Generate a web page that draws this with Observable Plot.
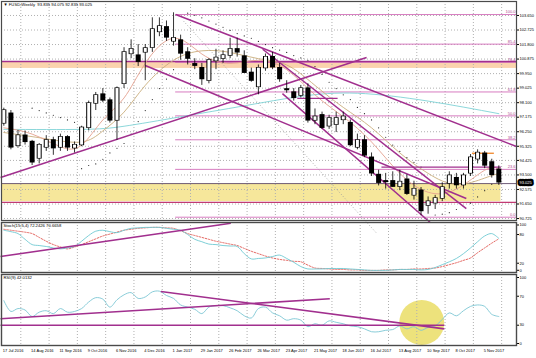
<!DOCTYPE html>
<html><head><meta charset="utf-8">
<script src="https://cdn.jsdelivr.net/npm/d3@7"></script>
<script src="https://cdn.jsdelivr.net/npm/@observablehq/plot@0.6"></script>
<style>
body{margin:0;background:#fff;}
#chart{position:relative;width:536px;height:358px;overflow:hidden;background:#fff;}
#chart svg{position:absolute;left:0;}
</style></head><body><div id="chart"></div>
<script>
// ---------- data ----------
const firstWeek = "2016-07-17";
const open  = [96.78,97.4,95.35,96.0,95.6,94.55,95.25,95.7,95.25,95.9,95.2,95.4,96.5,98.05,98.62,98.24,96.97,99.3,101.2,101.1,101.3,101.6,102.6,102.9,102.0,102.06,101.3,100.55,100.3,99.5,100.75,100.9,101.1,101.5,101.04,100.0,99.1,100.3,101.0,100.3,98.95,98.75,98.55,99.0,96.97,97.3,96.6,96.7,97.0,96.8,95.25,95.7,94.6,93.5,93.1,93.1,92.75,93.2,92.2,92.5,91.55,91.7,92.0,92.95,93.3,92.85,93.6,94.5,94.85,94.3,93.835];
const high  = [97.75,97.6,96.33,96.3,95.7,95.5,96.0,95.9,96.1,96.0,95.6,96.6,98.2,98.75,99.0,98.4,99.1,101.6,102.1,101.8,101.8,103.5,103.5,103.3,103.82,102.4,101.6,100.9,100.6,100.9,101.5,101.4,102.2,102.2,101.4,100.3,100.5,101.2,101.3,100.6,99.5,99.0,99.2,99.3,97.7,97.5,97.3,97.5,97.5,97.0,96.1,96.0,94.9,93.8,93.6,93.7,93.8,93.5,93.1,92.7,92.1,92.2,93.0,93.7,93.6,93.6,94.8,95.1,95.0,94.5,94.075];
const low   = [96.6,95.1,95.2,95.4,94.1,94.2,95.0,94.75,95.0,95.0,94.9,95.3,96.3,97.6,98.1,96.8,95.7,99.0,100.9,100.4,99.5,101.3,102.3,102.0,101.7,100.8,100.5,100.2,99.2,99.3,100.2,100.6,100.9,101.0,100.0,99.4,98.6,100.1,100.2,99.4,98.7,98.2,98.4,96.8,96.7,96.4,96.4,96.2,96.7,95.3,95.1,94.6,93.4,92.8,92.6,92.7,92.5,92.2,91.9,90.9,91.0,91.3,91.8,92.6,92.6,92.6,93.4,94.2,93.9,93.3,92.835];
const close = [97.6,95.25,96.0,95.6,94.3,95.4,95.7,95.2,95.9,95.25,95.4,96.5,98.05,98.56,98.24,96.97,99.0,101.3,101.5,100.7,101.55,102.76,102.95,102.25,102.2,101.23,100.9,100.45,99.6,100.8,100.95,101.1,101.5,101.3,100.0,99.5,100.3,101.0,100.35,99.6,98.9,98.4,99.0,96.97,97.2,96.5,97.1,97.1,97.2,95.4,95.7,94.74,93.6,93.0,93.05,92.75,93.05,92.3,92.6,91.2,91.8,92.0,92.7,93.45,92.85,93.45,94.6,94.9,94.1,93.5,93.025];

const stochK = [89,86,82,70,59,57,55,52,50,52,55,66,78,87,89,86,84,89,93,94,95,95,95,93,91,89,80,70,65,60,59,57,56,55,40,29,30,31,34,37,30,22,13,8,8,8,9,9,9,8,7,6,5,5,5,6,7,7,7,6,7,11,17,23,30,40,52,65,77,82,72];
const stochD = [91,89,87,85,82,74,66,59,54,50,54,59,65,71,77,81,85,89,91,93,94,95,95,94,93,88,82,78,74,70,66,63,60,57,51,45,40,35,31,28,26,24,23,16,10,9,8,7,7,6,6,5,5,5,6,6,7,7,8,8,9,10,13,17,21,26,31,42,52,62,71];
const rsi = [64,49,53,51,42,48,50,46,53,48,49,53,62,68,66,55,65,72,75,67,69,76,77,71,67,58,55,52,46,55,57,57,54,50,43,40,53,55,47,43,37,39,37,28,32,30,36,34,32,29,28,25,21,21,23,24,29,25,28,23,27,29,38,47,43,50,56,58,56,45,42];

const maCyan   = [[0,96.4],[11,96.4],[17,96.6],[25,97.2],[34,97.9],[42,98.5],[50,98.7],[60,98.2],[70,97.4]];
const maTan    = [[0,96.2],[6,95.8],[11,95.6],[14,96.3],[17,97.5],[20,99.2],[24,100.8],[28,101.4],[32,101.3],[36,100.9],[40,100.5],[44,99.2],[48,97.8],[52,96.5],[56,94.9],[60,93.6],[64,92.9],[68,93.3],[70,93.6]];
const maSalmon = [[0,96.5],[4,96.1],[8,95.3],[11,95.4],[14,97.0],[17,98.4],[20,100.6],[24,102.2],[28,101.2],[32,100.6],[36,100.8],[40,100.2],[44,98.6],[48,97.2],[52,95.6],[56,93.6],[60,92.4],[64,92.6],[68,93.8],[70,93.9]];
const sar = [[4,97.75],[5,97.6],[6,97.45],[7,97.3],[8,97.15],[9,97.0],[10,96.85],[11,93.9],[12,94.1],[13,94.2],[14,94.5],[15,94.9],[16,95.2],[17,95.5],[18,96.1],[19,96.9],[20,97.6],[21,98.3],[22,99.0],[23,99.6],[24,100.2],[26,103.8],[27,103.65],[28,103.5],[29,103.3],[30,103.1],[31,102.9],[32,102.7],[33,102.5],[34,102.35],[35,102.2],[36,102.0],[37,101.8],[38,101.6],[39,101.45],[40,101.3],[41,101.1],[42,100.95],[43,100.8],[44,100.4],[45,99.9],[46,99.4],[47,99.0],[48,98.6],[49,98.3],[50,97.8],[51,97.4],[52,97.0],[53,96.5],[54,95.9],[55,95.4],[56,95.0],[57,94.6],[58,94.3],[59,94.0],[61,90.95],[62,91.0],[63,91.1],[64,91.3],[65,91.5],[66,91.7],[67,92.1],[68,92.5],[69,92.9]];

const priceTicks = [103.650,102.725,101.800,100.875,99.950,99.025,98.100,97.175,96.250,95.325,94.425,93.500,92.575,91.650,90.725];
const lastPrice = 93.025;
const fibLevels = [0,23.6,38.2,50,61.8,76.4,85.4,100];
const fibLow = 90.81, fibHigh = 103.71, fibStartWeek = 24.3;
const orangeZone = [100.28,100.72];
const yellowZone = [91.8,92.95];
const supportLine = 91.75;
// trend lines: [week1, price1, week2, price2]
const mainTrends = [[-0.47,93.34,51.3,100.98],[24.3,103.71,72.5,95.31],[20.0,100.47,65.4,92.0],[36.6,101.5,65.4,91.36],[39.4,98.68,60.3,90.47]];
const dottedTrend = [[25.4,103.3,52.7,89.8]];
const mainSegments = [[41.5,98.37,47.2,98.37,"purple"],[53.4,94.0,70.3,94.0,"purple"],[66.2,94.88,69.3,94.88,"orange"]];
const stochTrend = [[-0.47,34.1,32.1,103.8]];
const rsiTrends = [[-0.47,38.9,46.1,66.5],[22.2,76.5,62.3,25],[-0.47,30,62.3,30]];
const rsiHighlight = [[59.1,33.7]];
const labelDates = ["2016-07-17","2016-08-14","2016-09-11","2016-10-09","2016-11-06","2016-12-04","2017-01-01","2017-01-29","2017-02-26","2017-03-26","2017-04-23","2017-05-21","2017-06-18","2017-07-16","2017-08-13","2017-09-10","2017-10-08","2017-11-05"];
const title = "\u25BC FUSD,Weekly  93.835 94.075 92.835 93.025";
const stochTitle = "Stoch(15,5,4) 72.2426 70.6658";
const rsiTitle = "RSI(9) 42.0132";

// ---------- helpers ----------
const t0 = Date.parse(firstWeek + "T00:00:00Z");
const wd = w => new Date(t0 + w * 7 * 864e5);
const candles = open.map((o, i) => ({date: wd(i), open: o, high: high[i], low: low[i], close: close[i], up: close[i] >= o}));
const xDomain = [wd(-0.33), wd(72.5)];
const gridDates = labelDates.map(d => new Date(Date.parse(d + "T00:00:00Z") + 16.8 * 864e5));
const lbl = labelDates.map(d => new Date(d + "T00:00:00Z"));
const pts = arr => arr.map(([w, v]) => ({date: wd(w), v}));
const seg = arr => arr.map(([w1, v1, w2, v2, k]) => ({x1: wd(w1), y1: v1, x2: wd(w2), y2: v2, k}));
const font = "Liberation Sans, Arial, sans-serif";
const PURPLE = "#a12f8e", FIB = "#d77cc0", GRID = "#b0b0b0", FRAME = "#4a4a4a";
const W = 536, ML = 1, MR = 20;
const xOpt = {type: "utc", domain: xDomain, axis: null};
const fibData = fibLevels.map(l => ({l, p: fibLow + (fibHigh - fibLow) * l / 100}));
const axisStyle = {anchor: "right", tickSize: 2, tickPadding: 1, fontSize: 4};

const chart = document.getElementById("chart");
function place(svg, top) { svg.style.top = top + "px"; chart.appendChild(svg); }

// ---------- main panel ----------
const main = Plot.plot({
  width: W, height: 222, marginLeft: ML, marginRight: MR, marginTop: 1, marginBottom: 2,
  style: {fontFamily: font, background: "transparent", overflow: "visible"},
  x: xOpt,
  y: {domain: [90.60, 104.54], axis: null},
  marks: [
    Plot.rect([orangeZone], {x1: () => xDomain[0], x2: () => xDomain[1], y1: d => d[0], y2: d => d[1], fill: "#fbd3ad"}),
    Plot.rect([yellowZone], {x1: () => xDomain[0], x2: () => wd(70.3), y1: d => d[0], y2: d => d[1], fill: "#f6e79b"}),
    Plot.gridX(gridDates, {stroke: GRID, strokeOpacity: 1, strokeDasharray: "1,2"}),
    Plot.gridY(priceTicks, {stroke: GRID, strokeOpacity: 1, strokeDasharray: "1,2"}),
    Plot.ruleY(fibData, {y: "p", x1: wd(fibStartWeek), x2: xDomain[1], stroke: FIB, strokeWidth: 1}),
    Plot.text(fibData, {y: "p", x: xDomain[1], text: d => d.l.toFixed(1), textAnchor: "end", dx: -1, dy: -2.5, fontSize: 4, fill: "#b04a90"}),
    Plot.ruleY([orangeZone[1]], {stroke: PURPLE, strokeWidth: 1.3}),
    Plot.ruleY([yellowZone[1]], {stroke: "#6f5d78", strokeWidth: 1}),
    Plot.ruleY([supportLine], {stroke: "#c23a73", strokeWidth: 1.3}),
    Plot.line(pts(maCyan), {x: "date", y: "v", stroke: "#7fd3d6", strokeWidth: 0.9, curve: "natural"}),
    Plot.line(pts(maTan), {x: "date", y: "v", stroke: "#c9ae7c", strokeWidth: 0.9, curve: "natural"}),
    Plot.line(pts(maSalmon), {x: "date", y: "v", stroke: "#e4a08e", strokeWidth: 0.9, curve: "natural"}),
    Plot.link(seg(dottedTrend), {x1: "x1", y1: "y1", x2: "x2", y2: "y2", stroke: "#999", strokeWidth: 0.8, strokeDasharray: "1,2"}),
    Plot.dot(pts(sar), {x: "date", y: "v", r: 0.6, fill: "#222", stroke: "none"}),
    Plot.link(seg(mainSegments), {x1: "x1", y1: "y1", x2: "x2", y2: "y2", stroke: d => d.k === "orange" ? "#f0872a" : PURPLE, strokeWidth: 1.3}),
    Plot.link(seg(mainTrends), {x1: "x1", y1: "y1", x2: "x2", y2: "y2", stroke: PURPLE, strokeWidth: 1.5}),
    Plot.ruleX(candles, {x: "date", y1: "low", y2: "high", stroke: "#000", strokeWidth: 0.8}),
    Plot.ruleX(candles, {x: "date", y1: d => Math.max(d.open, d.close) + 0.04, y2: d => Math.min(d.open, d.close) - 0.04, stroke: "#000", strokeWidth: 5}),
    Plot.ruleX(candles.filter(d => d.up), {x: "date", y1: "open", y2: "close", stroke: "#fff", strokeWidth: 3}),
    Plot.axisY(priceTicks, {...axisStyle, tickFormat: d => d.toFixed(3)}),
    Plot.text([lastPrice], {x: xDomain[1], y: d => d, text: d => d.toFixed(3), textAnchor: "start", dx: 3, fontSize: 4, fill: "#000", stroke: "#000", strokeWidth: 4.5}),
    Plot.text([lastPrice], {x: xDomain[1], y: d => d, text: d => d.toFixed(3), textAnchor: "start", dx: 3, fontSize: 4, fill: "#fff"}),
    Plot.text([title], {frameAnchor: "top-left", dx: 2, dy: 2, fontSize: 4.2, fill: "#000"}),
    Plot.frame({stroke: FRAME, strokeWidth: 1.2})
  ]
});
place(main, 0);

// ---------- stochastic ----------
const stochData = stochK.map((k, i) => ({date: wd(i), k, d: stochD[i]}));
const stoch = Plot.plot({
  width: W, height: 54, marginLeft: ML, marginRight: MR, marginTop: 2, marginBottom: 2,
  style: {fontFamily: font, background: "transparent", overflow: "visible"},
  x: xOpt,
  y: {domain: [0.6, 105.2], axis: null},
  marks: [
    Plot.gridX(gridDates, {stroke: GRID, strokeOpacity: 1, strokeDasharray: "1,2"}),
    Plot.line(stochData, {x: "date", y: "d", stroke: "#e0554f", strokeWidth: 0.9, strokeDasharray: "1.5,1.5", curve: "catmull-rom"}),
    Plot.line(stochData, {x: "date", y: "k", stroke: "#6fc9d2", strokeWidth: 0.9, curve: "catmull-rom"}),
    Plot.link(seg(stochTrend), {x1: "x1", y1: "y1", x2: "x2", y2: "y2", stroke: PURPLE, strokeWidth: 1.6}),
    Plot.axisY([20, 80, 100], axisStyle),
    Plot.axisY([0], {...axisStyle, dy: -2.5}),
    Plot.text([stochTitle], {frameAnchor: "top-left", dx: 2, dy: 2, fontSize: 4.2, fill: "#000"}),
    Plot.frame({stroke: FRAME, strokeWidth: 1.4})
  ]
});
place(stoch, 220);

// ---------- RSI ----------
const rsiData = rsi.map((v, i) => ({date: wd(i), v}));
const rsiPlot = Plot.plot({
  width: W, height: 86, marginLeft: ML, marginRight: MR, marginTop: 2, marginBottom: 13,
  style: {fontFamily: font, background: "transparent", overflow: "visible"},
  x: xOpt,
  y: {domain: [2, 100], axis: null},
  marks: [
    Plot.dot(rsiHighlight, {x: d => wd(d[0]), y: d => d[1], r: 22.5, fill: "#ede27c", stroke: "none"}),
    Plot.gridX(gridDates, {stroke: GRID, strokeOpacity: 1, strokeDasharray: "1,2"}),
    Plot.line(rsiData, {x: "date", y: "v", stroke: "#7cc6d4", strokeWidth: 0.9, curve: "catmull-rom"}),
    Plot.link(seg(rsiTrends), {x1: "x1", y1: "y1", x2: "x2", y2: "y2", stroke: PURPLE, strokeWidth: 1.6}),
    Plot.axisY([30, 70], axisStyle),
    Plot.axisY([100], {...axisStyle, dy: 3}),
    Plot.axisY([2], {...axisStyle, dy: -2, tickFormat: () => "0"}),
    Plot.axisX(lbl, {anchor: "bottom", tickSize: 0, tickPadding: 4, textAnchor: "start", dx: -1, fontSize: 4, tickFormat: d3.utcFormat("%-d %b %Y")}),
    Plot.text([rsiTitle], {frameAnchor: "top-left", dx: 2, dy: 2, fontSize: 4.2, fill: "#000"}),
    Plot.frame({stroke: FRAME, strokeWidth: 1.4})
  ]
});
place(rsiPlot, 272);
</script></body></html>
